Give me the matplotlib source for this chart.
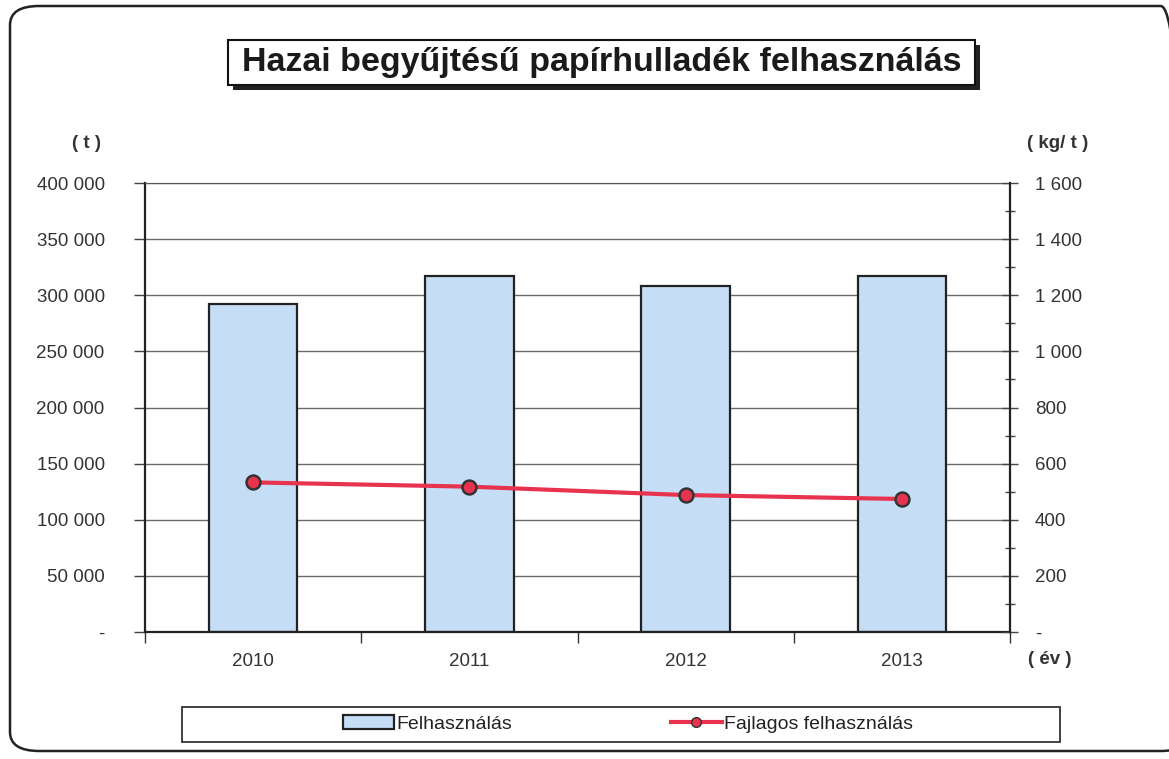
import matplotlib
matplotlib.use("Agg")
import matplotlib.pyplot as plt
from matplotlib.patches import FancyBboxPatch, Rectangle, Patch
from matplotlib.lines import Line2D
from matplotlib.ticker import FuncFormatter, MultipleLocator

plt.rcParams['font.family'] = ['Liberation Sans', 'DejaVu Sans']

years = ['2010', '2011', '2012', '2013']
felhasznalas = [292000, 317000, 308000, 317000]          # t
fajlagos = [533, 518, 488, 474]                          # kg/t

left_ticks = [0, 50000, 100000, 150000, 200000, 250000, 300000, 350000, 400000]
right_ticks = [0, 200, 400, 600, 800, 1000, 1200, 1400, 1600]


def space_fmt(v, pos):
    if v == 0:
        return '-'
    return f'{int(v):,}'.replace(',', ' ')


fig = plt.figure(figsize=(11.69, 7.59), dpi=100)
W, H = 1169, 759

# rounded outer frame
fig.patches.append(FancyBboxPatch((10 / W, 8 / H), 1180 / W, 745 / H,
                                  boxstyle='round,pad=0,rounding_size=0.025',
                                  transform=fig.transFigure, fill=False,
                                  edgecolor='#222222', linewidth=1.8, clip_on=False))

# title box with shadow
fig.patches.append(Rectangle((233 / W, 1 - 90 / H), 747 / W, 45 / H,
                             transform=fig.transFigure, facecolor='#222222',
                             edgecolor='none'))
fig.patches.append(Rectangle((228 / W, 1 - 85 / H), 747 / W, 45 / H,
                             transform=fig.transFigure, facecolor='white',
                             edgecolor='#111111', linewidth=1.5))
fig.text(602 / W, 1 - 63 / H, 'Hazai begyűjtésű papírhulladék felhasználás',
         ha='center', va='center', fontsize=24.5, fontweight='bold', color='#1a1a1a')

ax = fig.add_axes([145 / W, 1 - 632 / H, 865 / W, 449 / H])
x = list(range(len(years)))
ax.bar(x, felhasznalas, width=0.41, color='#c6ddf6', edgecolor='#222222',
       linewidth=1.6, zorder=2)
ax.set_xlim(-0.5, 3.5)
ax.set_ylim(0, 400000)
ax.set_yticks(left_ticks)
ax.yaxis.set_major_formatter(FuncFormatter(space_fmt))
ax.yaxis.grid(True, color='#6a6a6a', linewidth=1.0, zorder=0)
ax.set_axisbelow(True)
ax.tick_params(axis='y', direction='out', length=8, width=1, pad=21,
               labelsize=13.5, labelcolor='#333333', color='#444444')

ax.set_xticks([-0.5, 0.5, 1.5, 2.5, 3.5])
ax.set_xticklabels([])
ax.tick_params(axis='x', which='major', direction='out', length=8, width=1,
               color='#333333')
ax.set_xticks(x, minor=True)
ax.set_xticklabels(years, minor=True)
ax.tick_params(axis='x', which='minor', length=0, pad=15, labelsize=13.5,
               labelcolor='#333333')

for s in ['left', 'bottom']:
    ax.spines[s].set_color('#222222')
    ax.spines[s].set_linewidth(1.6)
ax.spines['top'].set_color('#555555')
ax.spines['right'].set_visible(False)

ax2 = ax.twinx()
ax2.plot(x, fajlagos, color='#e8334e', linewidth=3, marker='o', markersize=10,
         markerfacecolor='#e8334e', markeredgecolor='#333333', markeredgewidth=1.8,
         zorder=3)
ax2.set_ylim(0, 1600)
ax2.set_yticks(right_ticks)
ax2.yaxis.set_minor_locator(MultipleLocator(100))
ax2.yaxis.set_major_formatter(FuncFormatter(space_fmt))
ax2.tick_params(axis='y', which='major', direction='inout', length=12, width=1,
                pad=12, labelsize=13.5, labelcolor='#333333', color='#444444')
ax2.tick_params(axis='y', which='minor', direction='inout', length=7, width=1,
                color='#444444')
ax2.spines['right'].set_color('#222222')
ax2.spines['right'].set_linewidth(1.6)
for s in ['left', 'top', 'bottom']:
    ax2.spines[s].set_visible(False)

fig.text(87 / W, 1 - 143 / H, '( t )', ha='center', va='center',
         fontsize=13.5, fontweight='bold', color='#333333')
fig.text(1058 / W, 1 - 143 / H, '( kg/ t )', ha='center', va='center',
         fontsize=13.5, fontweight='bold', color='#333333')
fig.text(1050 / W, 1 - 660 / H, '( év )', ha='center', va='center',
         fontsize=13.5, fontweight='bold', color='#333333')

# legend frame and entries
fig.patches.append(Rectangle((182 / W, 1 - 742 / H), 878 / W, 35 / H,
                             transform=fig.transFigure, facecolor='white',
                             edgecolor='#333333', linewidth=1.3))
handles = [Patch(facecolor='#c6ddf6', edgecolor='#222222', linewidth=1.6),
           Line2D([], [], color='#e8334e', linewidth=3, marker='o', markersize=7,
                  markerfacecolor='#e8334e', markeredgecolor='#333333')]
fig.legend(handles, ['Felhasználás', 'Fajlagos felhasználás'], ncol=2,
           loc='center', bbox_to_anchor=(628 / W, 1 - 724 / H), frameon=False,
           fontsize=14, columnspacing=8.2, handlelength=2.6, handletextpad=0.1,
           labelcolor='#222222')

fig.savefig('out.png', dpi=100)
